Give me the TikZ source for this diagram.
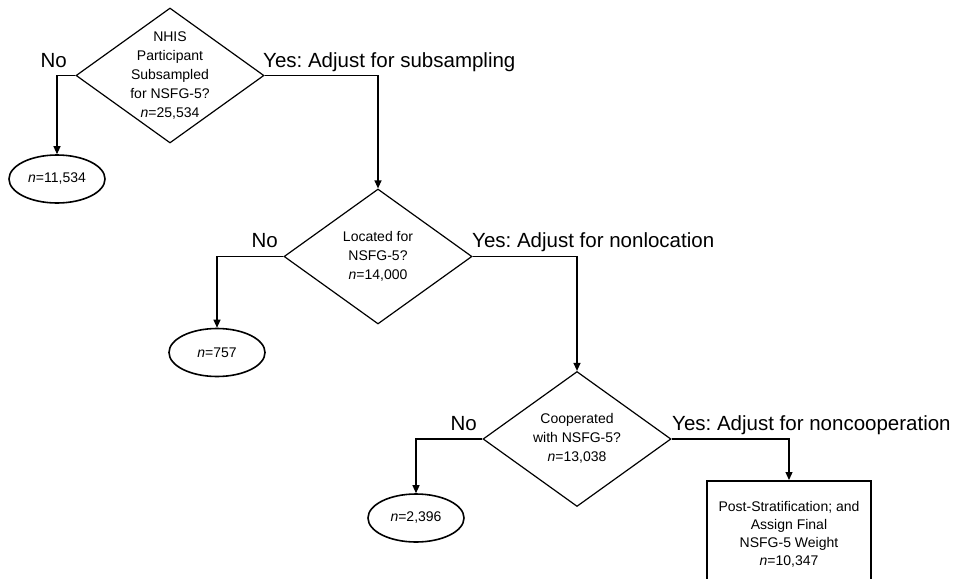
\documentclass[tikz,border=0pt]{standalone}
\usepackage{fontspec}
\setmainfont{Liberation Sans}
\usetikzlibrary{shapes.geometric,arrows.meta}
\frenchspacing
\newcommand{\dtxt}[1]{\makebox[0pt]{\begin{tabular}{@{}c@{}}#1\end{tabular}}}
\begin{document}
\begin{tikzpicture}[x=1pt,y=-1pt,
  decision/.style={draw,diamond,line width=1.2pt,minimum width=188pt,minimum height=135pt,inner sep=0pt,font=\fontsize{14}{19}\selectfont},
  term/.style={draw,ellipse,line width=1.6pt,minimum width=96pt,minimum height=48pt,inner sep=0pt,font=\fontsize{14}{16}\selectfont},
  finalbox/.style={draw,rectangle,line width=1.5pt,minimum width=164pt,inner xsep=0pt,inner ysep=20.5pt,anchor=north,font=\fontsize{14}{18}\selectfont,align=center},
  biglabel/.style={font=\fontsize{20.5}{24}\selectfont,inner sep=0pt},
  conn/.style={line width=1.2pt,-{Triangle[length=8pt,width=7pt]}}
]
\clip (0,0) rectangle (955,578);
\fill[white] (0,0) rectangle (955,578);

% decisions
\node[decision] (d1) at (170,75.5) {\dtxt{NHIS\\Participant\\Subsampled\\for NSFG-5?\\\textit{n}=25,534}};
\node[decision] (d2) at (378,256.5) {\dtxt{Located for\\NSFG-5?\\\textit{n}=14,000}};
\node[decision] (d3) at (577,439) {\dtxt{Cooperated\\with NSFG-5?\\\textit{n}=13,038}};

% terminals
\node[term] (e1) at (57,179) {\textit{n}=11,534};
\node[term] (e2) at (217,352.5) {\textit{n}=757};
\node[term] (e3) at (416,518) {\textit{n}=2,396};

% final box
\node[finalbox] (fb) at (789,480) {Post-Stratification; and\\Assign Final\\NSFG-5 Weight\\\textit{n}=10,347};

% labels
\node[biglabel,anchor=base east] (no1) at (67,67) {No};
\node[biglabel,anchor=base west] (yes1) at (263,67) {Yes: Adjust for subsampling};
\node[biglabel,anchor=base east] (no2) at (278,247.5) {No};
\node[biglabel,anchor=base west] (yes2) at (472,247.5) {Yes: Adjust for nonlocation};
\node[biglabel,anchor=base east] (no3) at (477,430) {No};
\node[biglabel,anchor=base west] (yes3) at (672,430) {Yes: Adjust for noncooperation};

% connectors
\draw[conn] (d1.west) -| (e1.north);
\draw[conn] (d1.east) -| (d2.north);
\draw[conn] (d2.west) -| (e2.north);
\draw[conn] (d2.east) -| (d3.north);
\draw[conn] (d3.west) -| (e3.north);
\draw[conn] (d3.east) -| (fb.north);
\end{tikzpicture}
\end{document}
